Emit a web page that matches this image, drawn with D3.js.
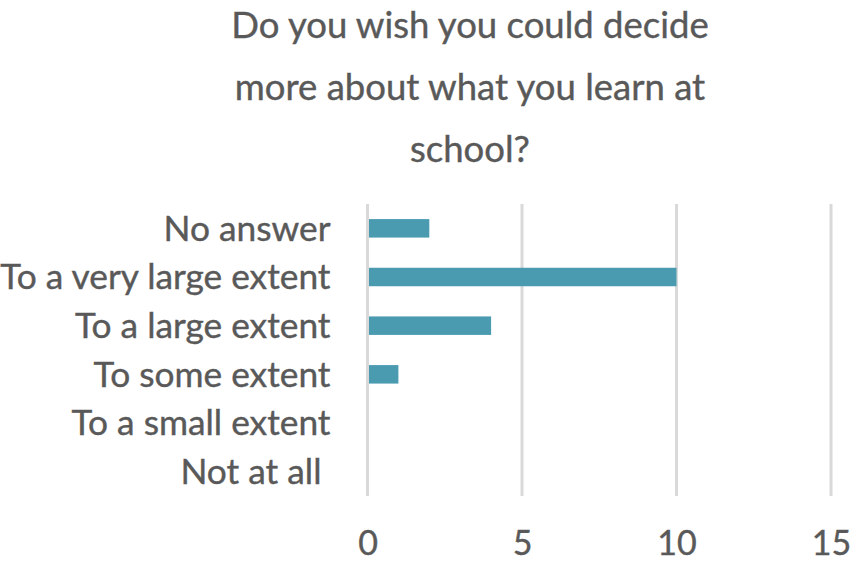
<!DOCTYPE html>
<html>
<head>
<meta charset="utf-8">
<script src="https://cdn.jsdelivr.net/npm/d3@7"></script>
<style>
  body { margin: 0; background: #fff; }
  text { font-family: Lato, "Open Sans", sans-serif; fill: #595959; stroke: #595959; stroke-width: 0.4px; }
</style>
</head>
<body>
<div id="chart"></div>
<script>
const w = 854,
      h = 567;

const margin = {top: 204, right: 23, bottom: 71, left: 367.5};

const titleLines = ["Do you wish you could decide", "more about what you learn at", "school?"];
const categories = ["No answer", "To a very large extent", "To a large extent", "To some extent", "To a small extent", "Not at all "];
const counts = [2, 10, 4, 1, 0, 0];
const ticks = [0, 5, 10, 15];

const font = "Lato, 'Open Sans', sans-serif";

const svg = d3.select("#chart")
    .append("svg")
    .attr("width", w)
    .attr("height", h);

// title
svg.append("g")
    .selectAll("text")
    .data(titleLines)
    .enter()
    .append("text")
    .attr("x", 470)
    .attr("y", (d, i) => 38 + i * 62)
    .attr("text-anchor", "middle")
    .style("font-size", "36.5px")
    .text(d => d);

const g = svg.append("g")
    .attr("transform", "translate(" + margin.left + "," + margin.top + ")");

const innerW = w - margin.left - margin.right,
      innerH = h - margin.top - margin.bottom;

let xScale = d3.scaleLinear()
    .domain([0, 15])
    .range([0, innerW]);

let yScale = d3.scaleBand()
    .domain(categories)
    .range([0, innerH])
    .paddingInner(0.62)
    .paddingOuter(0.31);

// gridlines
g.selectAll("line.grid")
    .data(ticks)
    .enter()
    .append("line")
    .attr("class", "grid")
    .attr("x1", d => xScale(d))
    .attr("x2", d => xScale(d))
    .attr("y1", 0)
    .attr("y2", innerH)
    .style("stroke", "#d9d9d9")
    .style("stroke-width", 3);

// bars
g.selectAll("rect")
    .data(counts)
    .enter()
    .append("rect")
    .attr("x", xScale(0) + 1.5)
    .attr("y", (d, i) => yScale(categories[i]))
    .attr("width", d => Math.max(0, xScale(d) - xScale(0) - 1.5))
    .attr("height", yScale.bandwidth())
    .style("fill", "#4a9bb0");

// x axis
let xAxis = d3.axisBottom(xScale)
    .tickValues(ticks)
    .tickSize(0)
    .tickPadding(0);

let xAxisGroup = g.append("g")
    .attr("transform", "translate(0," + innerH + ")")
    .call(xAxis);
xAxisGroup.select(".domain").remove();
xAxisGroup.selectAll("text")
    .attr("y", 59)
    .attr("dy", 0)
    .style("font-size", "34px")
    .style("font-family", font)
    .style("fill", "#595959");

// y axis
let yAxis = d3.axisLeft(yScale)
    .tickSize(0)
    .tickPadding(37);

let yAxisGroup = g.append("g")
    .call(yAxis);
yAxisGroup.select(".domain").remove();
yAxisGroup.selectAll("text")
    .attr("dy", "0.35em")
    .style("font-size", "35.3px")
    .style("font-family", font)
    .style("fill", "#595959")
    .style("white-space", "pre");
</script>
</body>
</html>
